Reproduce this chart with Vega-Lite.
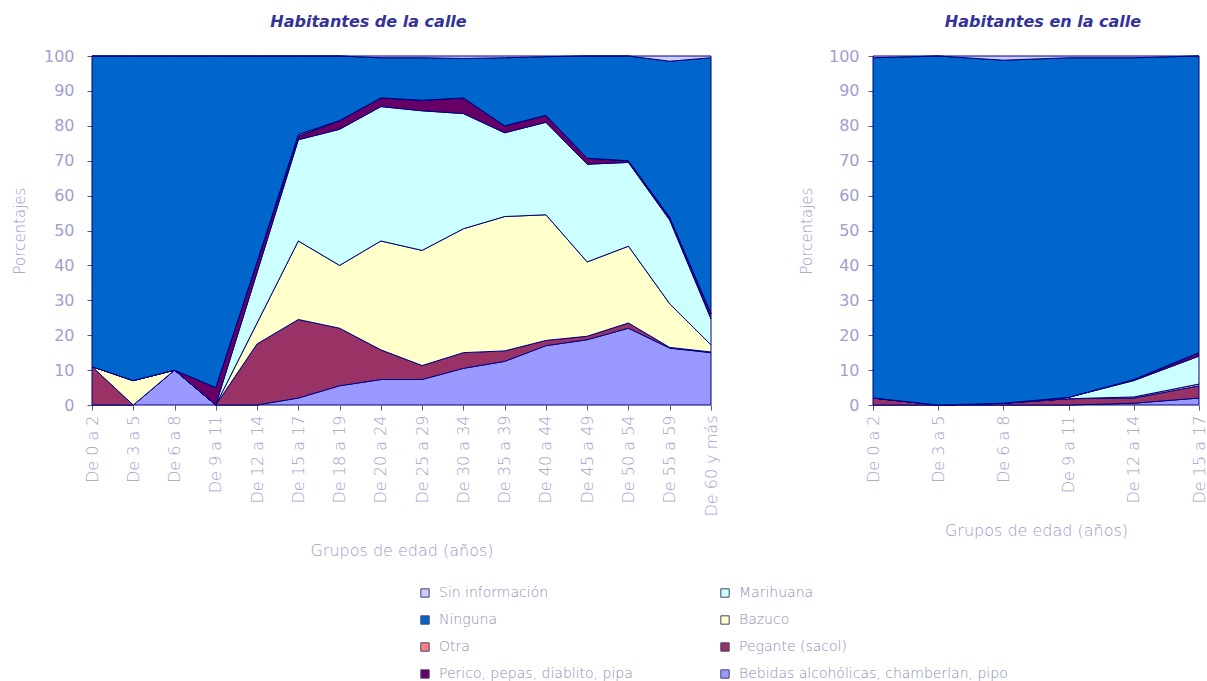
{
  "$schema": "https://vega.github.io/schema/vega-lite/v6.json",
  "padding": {"left": 12, "top": 14, "right": 0, "bottom": 0},
  "background": "white",
  "datasets": {
    "d": [
      {"panel": "de", "grupo": "De 0 a 2", "bebidas": 0, "pegante": 11, "bazuco": 0, "marihuana": 0, "perico": 0, "otra": 0, "ninguna": 89, "sin_info": 0},
      {"panel": "de", "grupo": "De 3 a 5", "bebidas": 0, "pegante": 0, "bazuco": 7, "marihuana": 0, "perico": 0, "otra": 0, "ninguna": 93, "sin_info": 0},
      {"panel": "de", "grupo": "De 6 a 8", "bebidas": 10, "pegante": 0, "bazuco": 0, "marihuana": 0, "perico": 0, "otra": 0, "ninguna": 90, "sin_info": 0},
      {"panel": "de", "grupo": "De 9 a 11", "bebidas": 0, "pegante": 0, "bazuco": 0, "marihuana": 0, "perico": 5, "otra": 0, "ninguna": 95, "sin_info": 0},
      {"panel": "de", "grupo": "De 12 a 14", "bebidas": 0, "pegante": 17.5, "bazuco": 6, "marihuana": 14.5, "perico": 3, "otra": 0, "ninguna": 59, "sin_info": 0},
      {"panel": "de", "grupo": "De 15 a 17", "bebidas": 2, "pegante": 22.5, "bazuco": 22.5, "marihuana": 29, "perico": 1, "otra": 0.5, "ninguna": 22.5, "sin_info": 0},
      {"panel": "de", "grupo": "De 18 a 19", "bebidas": 5.5, "pegante": 16.5, "bazuco": 18, "marihuana": 39, "perico": 2.5, "otra": 0, "ninguna": 18.5, "sin_info": 0},
      {"panel": "de", "grupo": "De 20 a 24", "bebidas": 7.3, "pegante": 8.5, "bazuco": 31.2, "marihuana": 38.5, "perico": 2.5, "otra": 0, "ninguna": 11.5, "sin_info": 0.5},
      {"panel": "de", "grupo": "De 25 a 29", "bebidas": 7.3, "pegante": 4, "bazuco": 33, "marihuana": 40, "perico": 3, "otra": 0, "ninguna": 12.2, "sin_info": 0.5},
      {"panel": "de", "grupo": "De 30 a 34", "bebidas": 10.5, "pegante": 4.5, "bazuco": 35.5, "marihuana": 33, "perico": 4.5, "otra": 0, "ninguna": 11.3, "sin_info": 0.7},
      {"panel": "de", "grupo": "De 35 a 39", "bebidas": 12.5, "pegante": 3, "bazuco": 38.5, "marihuana": 24, "perico": 2, "otra": 0, "ninguna": 19.5, "sin_info": 0.5},
      {"panel": "de", "grupo": "De 40 a 44", "bebidas": 17, "pegante": 1.5, "bazuco": 36, "marihuana": 26.5, "perico": 2, "otra": 0, "ninguna": 16.8, "sin_info": 0.2},
      {"panel": "de", "grupo": "De 45 a 49", "bebidas": 18.7, "pegante": 1, "bazuco": 21.3, "marihuana": 28, "perico": 1.7, "otra": 0, "ninguna": 29.3, "sin_info": 0},
      {"panel": "de", "grupo": "De 50 a 54", "bebidas": 22, "pegante": 1.5, "bazuco": 22, "marihuana": 24, "perico": 0.5, "otra": 0, "ninguna": 30, "sin_info": 0},
      {"panel": "de", "grupo": "De 55 a 59", "bebidas": 16.3, "pegante": 0.2, "bazuco": 12.5, "marihuana": 24, "perico": 0.5, "otra": 0.3, "ninguna": 44.7, "sin_info": 1.5},
      {"panel": "de", "grupo": "De 60 y más", "bebidas": 15, "pegante": 0.2, "bazuco": 2, "marihuana": 7.5, "perico": 1.5, "otra": 0, "ninguna": 73.3, "sin_info": 0.5},
      {"panel": "en", "grupo": "De 0 a 2", "bebidas": 0, "pegante": 2, "bazuco": 0, "marihuana": 0, "perico": 0, "otra": 0, "ninguna": 97.5, "sin_info": 0.5},
      {"panel": "en", "grupo": "De 3 a 5", "bebidas": 0, "pegante": 0, "bazuco": 0, "marihuana": 0, "perico": 0, "otra": 0, "ninguna": 100, "sin_info": 0},
      {"panel": "en", "grupo": "De 6 a 8", "bebidas": 0, "pegante": 0.5, "bazuco": 0, "marihuana": 0, "perico": 0, "otra": 0, "ninguna": 98.3, "sin_info": 1.2},
      {"panel": "en", "grupo": "De 9 a 11", "bebidas": 0, "pegante": 1.8, "bazuco": 0, "marihuana": 0.4, "perico": 0, "otra": 0, "ninguna": 97.3, "sin_info": 0.5},
      {"panel": "en", "grupo": "De 12 a 14", "bebidas": 0.5, "pegante": 1.5, "bazuco": 0.3, "marihuana": 4.7, "perico": 0.3, "otra": 0, "ninguna": 92.2, "sin_info": 0.5},
      {"panel": "en", "grupo": "De 15 a 17", "bebidas": 2, "pegante": 3.5, "bazuco": 0.5, "marihuana": 8, "perico": 1, "otra": 0, "ninguna": 85, "sin_info": 0}
    ]
  },
  "config": {
    "view": {"stroke": null},
    "font": "DejaVu Sans",
    "title": {"font": "DejaVu Sans", "fontSize": 16, "fontWeight": "bold", "fontStyle": "italic", "color": "#333399", "anchor": "middle", "offset": 18},
    "axis": {
      "labelFont": "DejaVu Sans", "labelFontSize": 15, "labelColor": "#a0a0cc", "labelFontWeight": "normal",
      "titleFont": "DejaVu Sans", "titleFontSize": 16, "titleFontWeight": 200, "titleColor": "#9a9ac8",
      "domain": false, "grid": false, "tickColor": "#555577", "tickSize": 5, "labelPadding": 5
    },
    "legend": {
      "orient": "none", "legendX": 326, "legendY": 530, "columns": 2, "columnPadding": 85, "rowPadding": 13,
      "symbolType": "square", "symbolSize": 70, "symbolStrokeColor": "#44446a", "symbolStrokeWidth": 1, "symbolOpacity": 1,
      "labelFont": "DejaVu Sans", "labelFontSize": 14, "labelColor": "#8c8cb4", "labelFontWeight": 200, "labelLimit": 400, "labelOffset": 7
    }
  },
  "hconcat": [
    {
      "data": {"name": "d"},
      "transform": [
        {"filter": "datum.panel === 'de'"},
        {"fold": ["bebidas", "pegante", "bazuco", "marihuana", "perico", "otra", "ninguna", "sin_info"], "as": ["sustancia", "valor"]},
        {"calculate": "indexof(['bebidas','pegante','bazuco','marihuana','perico','otra','ninguna','sin_info'], datum.sustancia)", "as": "rango"}
      ],
      "width": 619,
      "height": 349,
      "title": {"text": "Habitantes de la calle", "dx": -33},
      "mark": {"type": "area", "stroke": "#000080", "strokeWidth": 1, "interpolate": "linear", "opacity": 1},
      "encoding": {
        "x": {"field": "grupo", "type": "ordinal", "sort": null, "scale": {"type": "point", "padding": 0},
              "axis": {"title": "Grupos de edad (años)", "labelAngle": 270, "titlePadding": 27, "labelFontWeight": 200, "labelFontSize": 16}},
        "y": {"field": "valor", "type": "quantitative", "stack": "zero", "scale": {"domain": [0, 100], "nice": false},
              "axis": {"title": "Porcentajes", "titleFontSize": 15, "labelFontSize": 16, "labelPadding": 13, "values": [0, 10, 20, 30, 40, 50, 60, 70, 80, 90, 100], "titlePadding": 16}},
        "color": {"field": "sustancia", "type": "nominal",
                  "scale": {"domain": ["sin_info", "ninguna", "otra", "perico", "marihuana", "bazuco", "pegante", "bebidas"],
                            "range": ["#CCCCFF", "#0066CC", "#FF8080", "#660066", "#CCFFFF", "#FFFFCC", "#993366", "#9999FF"]},
                  "legend": {"title": null, "labelExpr": "datum.value == 'sin_info' ? 'Sin información' : datum.value == 'marihuana' ? 'Marihuana' : datum.value == 'ninguna' ? 'Ninguna' : datum.value == 'bazuco' ? 'Bazuco' : datum.value == 'otra' ? 'Otra' : datum.value == 'pegante' ? 'Pegante (sacol)' : datum.value == 'perico' ? 'Perico, pepas, diablito, pipa' : 'Bebidas alcohólicas, chamberlan, pipo'"}},
        "order": {"field": "rango", "type": "quantitative"}
      }
    },
    {
      "data": {"name": "d"},
      "transform": [
        {"filter": "datum.panel === 'en'"},
        {"fold": ["bebidas", "pegante", "bazuco", "marihuana", "perico", "otra", "ninguna", "sin_info"], "as": ["sustancia", "valor"]},
        {"calculate": "indexof(['bebidas','pegante','bazuco','marihuana','perico','otra','ninguna','sin_info'], datum.sustancia)", "as": "rango"}
      ],
      "width": 326,
      "height": 349,
      "title": {"text": "Habitantes en la calle", "dx": 7},
      "mark": {"type": "area", "stroke": "#000080", "strokeWidth": 1, "interpolate": "linear", "opacity": 1},
      "encoding": {
        "x": {"field": "grupo", "type": "ordinal", "sort": null, "scale": {"type": "point", "padding": 0},
              "axis": {"title": "Grupos de edad (años)", "labelAngle": 270, "titlePadding": 20, "labelFontWeight": 200, "labelFontSize": 16}},
        "y": {"field": "valor", "type": "quantitative", "stack": "zero", "scale": {"domain": [0, 100], "nice": false},
              "axis": {"title": "Porcentajes", "titleFontSize": 15, "labelFontSize": 16, "labelPadding": 9, "values": [0, 10, 20, 30, 40, 50, 60, 70, 80, 90, 100], "titlePadding": 14}},
        "color": {"field": "sustancia", "type": "nominal"},
        "order": {"field": "rango", "type": "quantitative"}
      }
    }
  ],
  "spacing": 80
}
